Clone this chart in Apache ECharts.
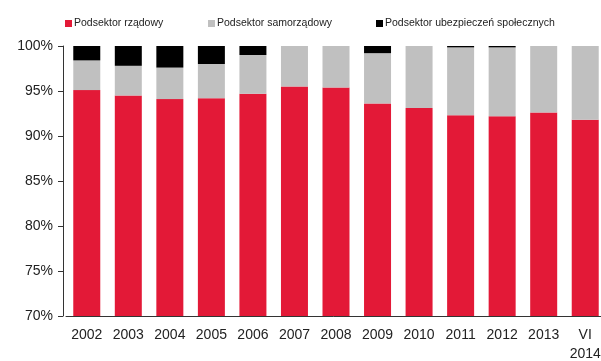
<!DOCTYPE html>
<html>
<head>
<meta charset="utf-8">
<script src="https://cdn.jsdelivr.net/npm/echarts@6/dist/echarts.min.js"></script>
<style>
  html, body { margin: 0; padding: 0; background: #fff; }
  #chart { width: 601px; height: 361px; }
</style>
</head>
<body>
<div id="chart"></div>
<script>
// categories and shares (%)
const years = ['2002', '2003', '2004', '2005', '2006', '2007', '2008', '2009', '2010', '2011', '2012', '2013', 'VI\n2014'];
const rzadowy = [95.1, 94.5, 94.1, 94.2, 94.7, 95.5, 95.4, 93.6, 93.1, 92.3, 92.2, 92.6, 91.8];
const samorzadowy = [3.3, 3.3, 3.5, 3.8, 4.3, 4.5, 4.6, 5.6, 6.9, 7.55, 7.65, 7.4, 8.2];
const ubezpieczen = [1.6, 2.2, 2.4, 2.0, 1.0, 0, 0, 0.8, 0, 0.15, 0.15, 0, 0];
const seriesNames = ['Podsektor rządowy', 'Podsektor samorządowy', 'Podsektor ubezpieczeń społecznych'];
const colors = ['#e31937', '#c0c0c0', '#000000'];

const chart = echarts.init(document.getElementById('chart'), null, { renderer: 'canvas' });

// one legend per item so each sits where the original puts it
const legendLeft = [60, 203, 371];
const legends = seriesNames.map((n, i) => ({
  data: [n],
  left: legendLeft[i],
  top: 13,
  icon: 'rect',
  itemWidth: 7,
  itemHeight: 7,
  textStyle: { fontFamily: 'Liberation Sans', fontSize: 10.5, color: '#222', padding: [0, 0, 0, -3] }
}));

const seriesData = [rzadowy, samorzadowy, ubezpieczen];

chart.setOption({
  animation: false,
  legend: legends,
  grid: { left: 66, top: 46, width: 540, height: 270, containLabel: false, outerBoundsMode: 'none' },
  xAxis: {
    type: 'category',
    data: years,
    axisLine: { lineStyle: { color: '#333', width: 1 } },
    axisTick: { length: 5, lineStyle: { color: '#333' } },
    axisLabel: { fontFamily: 'Liberation Sans', fontSize: 14, color: '#222', margin: 10, lineHeight: 19, interval: 0 }
  },
  yAxis: {
    type: 'value',
    min: 70,
    max: 100,
    interval: 5,
    offset: 3,
    splitLine: { show: false },
    axisLine: { show: true, lineStyle: { color: '#333', width: 1 } },
    axisTick: { show: true, length: 5, lineStyle: { color: '#333' } },
    axisLabel: { fontFamily: 'Liberation Sans', fontSize: 14, color: '#222', margin: 10, formatter: '{value}%' }
  },
  series: seriesNames.map((n, i) => ({
    name: n,
    type: 'bar',
    stack: 'total',
    barWidth: 27,
    data: seriesData[i],
    itemStyle: { color: colors[i] }
  }))
});
</script>
</body>
</html>
